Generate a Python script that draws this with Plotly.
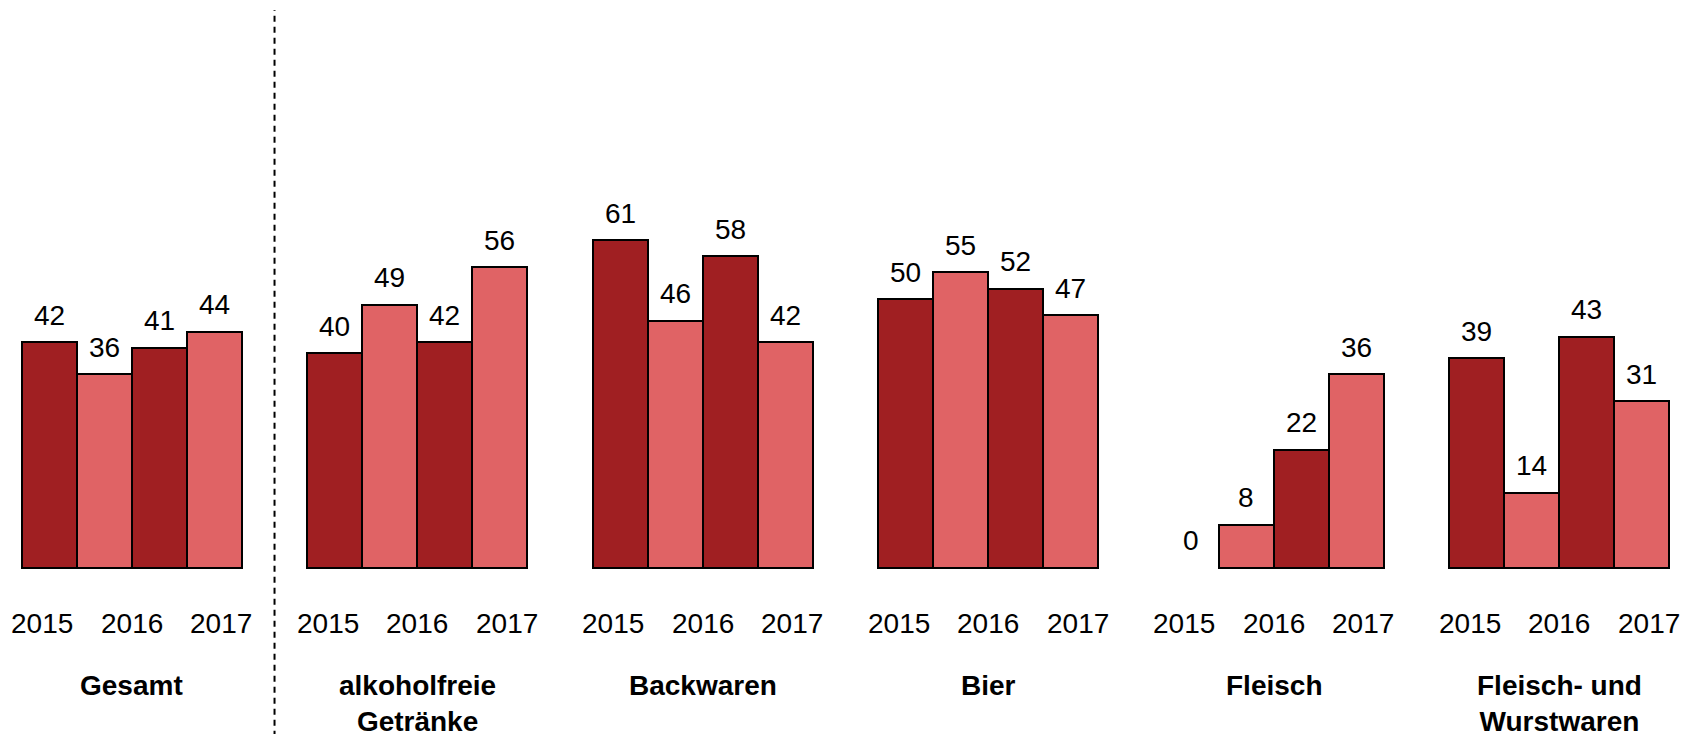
import plotly.graph_objects as go

categories = ["Gesamt", "alkoholfreie<br>Getränke", "Backwaren", "Bier", "Fleisch", "Fleisch- und<br>Wurstwaren"]
year_labels = ["2015", "2016", "2017"]
gesamt = [42, 36, 41, 44]
alkoholfreie = [40, 49, 42, 56]
backwaren = [61, 46, 58, 42]
bier = [50, 55, 52, 47]
fleisch = [0, 8, 22, 36]
wurstwaren = [39, 14, 43, 31]
series = [gesamt, alkoholfreie, backwaren, bier, fleisch, wurstwaren]

DARK = "#A01F22"
LIGHT = "#E06365"
PITCH = 5.2
FONT = "Liberation Sans, Arial, sans-serif"
FS = 28

xs, ys, cols, lws = [], [], [], []
for g, vals in enumerate(series):
    for i, v in enumerate(vals):
        xs.append(g * PITCH + i + 0.5)
        ys.append(v)
        cols.append(DARK if i % 2 == 0 else LIGHT)
        lws.append(2 if v > 0 else 0)

fig = go.Figure()
fig.add_trace(go.Bar(
    x=xs, y=ys, width=1.0,
    marker=dict(color=cols, line=dict(color="black", width=lws)),
    hoverinfo="skip",
))

annotations = []
for x, v in zip(xs, ys):
    annotations.append(dict(x=x, y=v, xref="x", yref="y", text=str(v), showarrow=False,
                            yanchor="middle", yshift=27, font=dict(size=FS, color="black", family=FONT)))
for g, cat in enumerate(categories):
    left = g * PITCH
    for yl, off in zip(year_labels, [0.37, 2.0, 3.63]):
        annotations.append(dict(x=left + off, y=0, xref="x", yref="y", text=yl, showarrow=False,
                                yanchor="middle", yshift=-56, font=dict(size=FS, color="black", family=FONT)))
    annotations.append(dict(x=left + 2.0, y=0, xref="x", yref="y", text="<b>" + cat + "</b>", showarrow=False,
                            yanchor="top", yshift=-100, font=dict(size=FS, color="black", family=FONT)))

fig.update_layout(
    width=1698, height=734,
    margin=dict(l=2.72, r=26.3, t=2, b=108),
    plot_bgcolor="white", paper_bgcolor="white",
    showlegend=False,
    bargap=0,
    xaxis=dict(range=[-0.2, 30.2], visible=False, fixedrange=True),
    yaxis=dict(range=[-12.35, 103.9], visible=False, fixedrange=True),
    annotations=annotations,
    shapes=[dict(type="line", xref="x", yref="paper", x0=4.6, x1=4.6, y0=-0.2, y1=1.0,
                 line=dict(color="black", width=2, dash="6px,5px"))],
)

fig.write_html("out.html")
